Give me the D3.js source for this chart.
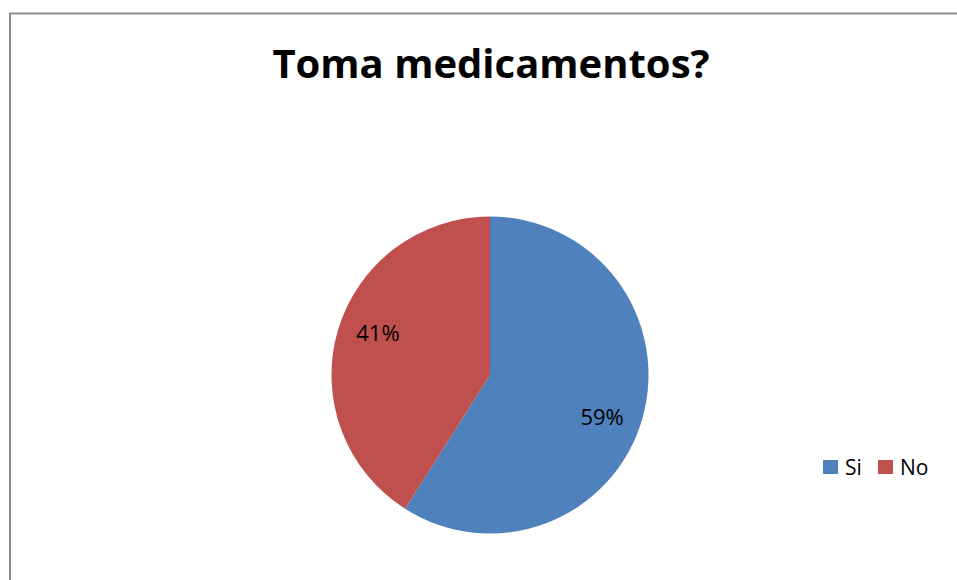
<!DOCTYPE html>
<html>
<head>
<meta charset="utf-8">
<script src="https://cdn.jsdelivr.net/npm/d3@7"></script>
<style>
  html, body { margin: 0; padding: 0; background: #fff; }
  svg { display: block; }
  text { font-family: 'Open Sans', sans-serif; }
</style>
</head>
<body>
<svg></svg>
<script>
'use strict';
// chart data
var title = 'Toma medicamentos?';
var categories = ['Si', 'No'];
var values = [59, 41];
var colors = ['#4f81bd', '#c0504d'];

var canvasWidth = 957;
var canvasHeight = 580;
var svg = d3.select('svg')
    .attr('width', canvasWidth)
    .attr('height', canvasHeight);

// frame (only left and top edges show in the crop)
svg.append('rect')
    .attr('x', 10)
    .attr('y', 13.5)
    .attr('width', 1000)
    .attr('height', 1000)
    .attr('fill', 'none')
    .attr('stroke', '#8c8c8c')
    .attr('stroke-width', 2);

svg.append('text')
    .attr('x', 491)
    .attr('y', 78)
    .attr('text-anchor', 'middle')
    .attr('font-size', 40)
    .attr('font-weight', 'bold')
    .attr('fill', '#000')
    .text(title);

var cx = 490, cy = 375, radius = 158.5;
var total = d3.sum(values);
var color = d3.scaleOrdinal().domain(categories).range(colors);

var pie = d3.pie().sort(null).value(function (d) { return d.value; });
var arc = d3.arc().innerRadius(0).outerRadius(radius);

var data = categories.map(function (c, i) { return {name: c, value: values[i]}; });

var pieArea = svg.append('g')
    .attr('transform', 'translate(' + cx + ',' + cy + ')');

pieArea.selectAll('path')
    .data(pie(data))
    .enter()
    .append('path')
    .attr('d', arc)
    .attr('fill', function (d) { return color(d.data.name); });

// labels sit a little clockwise of the slice middle, like the original
function labelPos(d) {
    var a = (d.startAngle + d.endAngle) / 2 + 0.075;
    var r = radius * 0.755;
    return [r * Math.sin(a), -r * Math.cos(a)];
}

pieArea.selectAll('text')
    .data(pie(data))
    .enter()
    .append('text')
    .attr('transform', function (d) { return 'translate(' + labelPos(d) + ')'; })
    .attr('text-anchor', 'middle')
    .attr('dy', '0.36em')
    .attr('font-size', 22)
    .attr('fill', '#000')
    .text(function (d) { return Math.round(d.data.value / total * 100) + '%'; });

// legend
var legend = svg.append('g')
    .attr('transform', 'translate(823,467)');

var legendX = d3.scaleOrdinal().domain(categories).range([0, 55]);

var items = legend.selectAll('g')
    .data(categories)
    .enter()
    .append('g')
    .attr('transform', function (d) { return 'translate(' + legendX(d) + ',0)'; });

items.append('rect')
    .attr('x', 0)
    .attr('y', -7)
    .attr('width', 15)
    .attr('height', 14)
    .attr('fill', function (d) { return color(d); });

items.append('text')
    .attr('x', 22)
    .attr('dy', '0.36em')
    .attr('font-size', 21)
    .attr('fill', '#000')
    .text(function (d) { return d; });
</script>
</body>
</html>
